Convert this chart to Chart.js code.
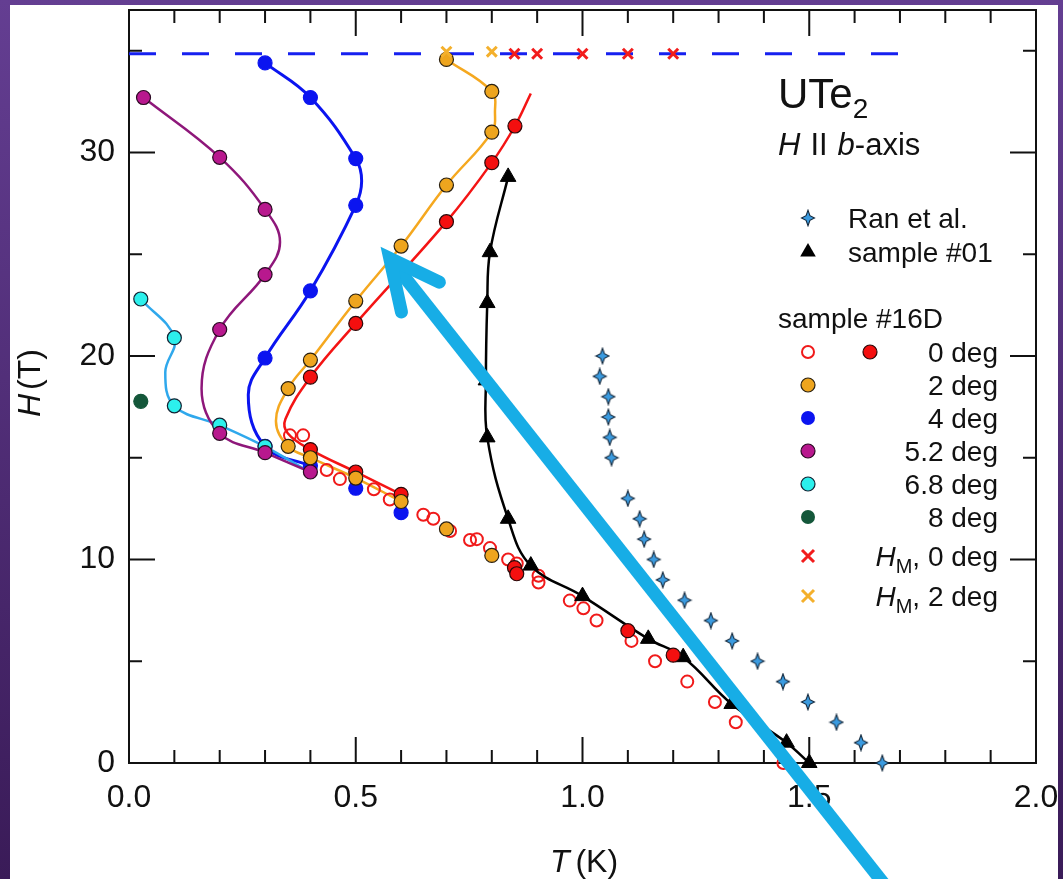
<!DOCTYPE html>
<html>
<head>
<meta charset="utf-8">
<script src="https://cdn.jsdelivr.net/npm/chart.js@4.4.0/dist/chart.umd.min.js"></script>
<style>
  html, body { margin: 0; padding: 0; background: #4a2a70; }
  canvas { display: block; }
</style>
</head>
<body>
<canvas id="myChart" width="1063" height="879"></canvas>
<script>
// axis ticks
const xTickLabels = [0, 0.5, 1.0, 1.5, 2.0];
const yTickLabels = [0, 10, 20, 30];
const xMinorTicks = [0.1, 0.2, 0.3, 0.4, 0.6, 0.7, 0.8, 0.9, 1.1, 1.2, 1.3, 1.4, 1.6, 1.7, 1.8, 1.9];
const yMinorTicks = [5, 15, 25, 35];

// Ran et al.
const tRan = [1.044, 1.038, 1.057, 1.057, 1.060, 1.064, 1.100, 1.126, 1.136, 1.157, 1.177, 1.225, 1.283, 1.330, 1.386, 1.442, 1.497, 1.560, 1.614, 1.661];
const hRan = [20, 19, 18, 17, 16, 15, 13, 12, 11, 10, 9, 8, 7, 6, 5, 4, 3, 2, 1, 0];

// sample #01
const tS01 = [0.836, 0.796, 0.790, 0.787, 0.790, 0.836, 0.886, 1.000, 1.145, 1.222, 1.329, 1.450, 1.500];
const hS01 = [28.8, 25.1, 22.6, 18.8, 16.0, 12.0, 9.7, 8.2, 6.1, 5.2, 2.9, 1.0, 0];

// sample #16D, 0 deg open circles
const tOpen0 = [0.355, 0.384, 0.436, 0.465, 0.540, 0.575, 0.649, 0.671, 0.708, 0.752, 0.767, 0.796, 0.836, 0.855, 0.903, 0.903, 0.972, 1.002, 1.031, 1.108, 1.160, 1.231, 1.292, 1.338, 1.443];
const hOpen0 = [16.1, 16.1, 14.4, 13.95, 13.45, 12.95, 12.2, 12.0, 11.4, 10.96, 11.0, 10.56, 10.0, 9.8, 9.2, 8.87, 7.98, 7.6, 7.0, 6.0, 5.0, 4.0, 3.0, 2.0, 0];

// 0 deg filled
const tRed = [0.851, 0.80, 0.70, 0.50, 0.40, 0.40, 0.50, 0.60, 0.850, 0.855, 1.10, 1.20];
const hRed = [31.3, 29.5, 26.6, 21.6, 18.96, 15.4, 14.3, 13.2, 9.6, 9.3, 6.5, 5.3];
const tRedLine = [0.886, 0.851, 0.80, 0.70, 0.50, 0.40, 0.345, 0.35, 0.40, 0.50, 0.60];
const hRedLine = [32.9, 31.3, 29.5, 26.6, 21.6, 18.96, 16.9, 16.2, 15.4, 14.3, 13.2];

// 2 deg
const tOr = [0.70, 0.80, 0.80, 0.70, 0.60, 0.50, 0.40, 0.351, 0.351, 0.40, 0.50, 0.60, 0.70, 0.80];
const hOr = [34.57, 33.0, 31.0, 28.4, 25.4, 22.7, 19.8, 18.4, 15.56, 15.0, 14.0, 12.85, 11.5, 10.2];
const tOrLine = [0.70, 0.80, 0.807, 0.80, 0.70, 0.60, 0.50, 0.40, 0.351, 0.324, 0.351, 0.40, 0.50, 0.60];
const hOrLine = [34.57, 33.0, 32.0, 31.0, 28.4, 25.4, 22.7, 19.8, 18.4, 16.8, 15.56, 15.0, 14.0, 12.85];

// 4 deg
const tBlue = [0.30, 0.40, 0.50, 0.50, 0.40, 0.30, 0.30, 0.40, 0.50, 0.60];
const hBlue = [34.4, 32.7, 29.7, 27.4, 23.2, 19.9, 15.56, 14.6, 13.5, 12.3];
const tBlueLine = [0.30, 0.40, 0.50, 0.513, 0.50, 0.40, 0.30, 0.263, 0.30, 0.40];
const hBlueLine = [34.4, 32.7, 29.7, 28.6, 27.4, 23.2, 19.9, 18.1, 15.56, 14.6];

// 5.2 deg
const tMag = [0.032, 0.20, 0.30, 0.30, 0.20, 0.20, 0.30, 0.40];
const hMag = [32.7, 29.76, 27.2, 24.0, 21.3, 16.2, 15.25, 14.3];
const tMagLine = [0.032, 0.20, 0.30, 0.333, 0.30, 0.20, 0.16, 0.20, 0.30, 0.40];
const hMagLine = [32.7, 29.76, 27.2, 25.6, 24.0, 21.3, 18.4, 16.2, 15.25, 14.3];

// 6.8 deg
const tCyan = [0.026, 0.10, 0.10, 0.20, 0.30];
const hCyan = [22.8, 20.9, 17.55, 16.6, 15.55];
const tCyanLine = [0.026, 0.10, 0.08, 0.10, 0.20, 0.30, 0.39];
const hCyanLine = [22.8, 20.9, 19.2, 17.55, 16.6, 15.55, 14.4];

// 8 deg
const tGreen = [0.026];
const hGreen = [17.77];

// H_M
const tHM0 = [0.85, 0.90, 1.0, 1.1, 1.2];
const hHM0 = [34.85, 34.85, 34.85, 34.85, 34.85];
const tHM2 = [0.70, 0.80];
const hHM2 = [34.95, 34.95];

// dashed limit line
const tDash = [0, 1.71];
const hDash = [34.85, 34.85];

// arrow (annotation) tail -> tip, data coords
const arrowT = [1.674, 0.575];
const arrowH = [-6.2, 24.8];

const FONT = '"Liberation Sans", Arial, Helvetica, sans-serif';
const mk = (t, h) => t.map((v, i) => ({ x: v, y: h[i] }));

function makeStar() {
    const s = document.createElement('canvas');
    s.width = 16; s.height = 18;
    const c = s.getContext('2d');
    const cx = 8, cy = 9, rx = 6.5, ry = 7.8, k = 0.3;
    c.beginPath();
    c.moveTo(cx, cy - ry);
    c.lineTo(cx + rx * k, cy - ry * k);
    c.lineTo(cx + rx, cy);
    c.lineTo(cx + rx * k, cy + ry * k);
    c.lineTo(cx, cy + ry);
    c.lineTo(cx - rx * k, cy + ry * k);
    c.lineTo(cx - rx, cy);
    c.lineTo(cx - rx * k, cy - ry * k);
    c.closePath();
    c.fillStyle = '#3b9be0';
    c.fill();
    c.strokeStyle = '#13283c';
    c.lineWidth = 1.1;
    c.stroke();
    return s;
}
const starImg = makeStar();

function dot(label, data, fill, border, r) {
    return {
        label: label, data: data, showLine: false,
        pointStyle: 'circle', pointRadius: r || 7,
        pointBackgroundColor: fill, pointBorderColor: border, pointBorderWidth: 1.2
    };
}
function guide(label, data, color, w) {
    return {
        label: label, data: data, showLine: true, pointRadius: 0,
        borderColor: color, borderWidth: w || 2.5, tension: 0.4, fill: false
    };
}

const data = {
    datasets: [
        { label: 'HM 2 deg', data: mk(tHM2, hHM2), showLine: false, pointStyle: 'crossRot',
          pointRadius: 7, pointBorderColor: '#f4b02c', pointBorderWidth: 3 },
        { label: 'HM 0 deg', data: mk(tHM0, hHM0), showLine: false, pointStyle: 'crossRot',
          pointRadius: 7, pointBorderColor: '#f21c1c', pointBorderWidth: 3 },
        dot('2 deg', mk(tOr, hOr), '#eea51e', '#2a2010'),
        dot('5.2 deg', mk(tMag, hMag), '#b8188e', '#2a0a22'),
        dot('6.8 deg', mk(tCyan, hCyan), '#2cf0ec', '#123'),
        dot('0 deg', mk(tRed, hRed), '#f40f0f', '#2a0808'),
        dot('4 deg', mk(tBlue, hBlue), '#0b14f0', '#0b14f0'),
        dot('8 deg', mk(tGreen, hGreen), '#14573a', '#14573a'),
        { label: 'sample #01', data: mk(tS01, hS01), showLine: true, tension: 0.4,
          borderColor: '#000', borderWidth: 2.5, pointStyle: 'triangle', pointRadius: 9,
          pointBackgroundColor: '#000', pointBorderColor: '#000', pointBorderWidth: 1 },
        { label: 'Ran et al.', data: mk(tRan, hRan), showLine: false, pointStyle: starImg, pointRadius: 8 },
        { label: '0 deg open', data: mk(tOpen0, hOpen0), showLine: false, pointStyle: 'circle', pointRadius: 6,
          pointBackgroundColor: 'rgba(0,0,0,0)', pointBorderColor: '#f01a1a', pointBorderWidth: 2 },
        guide('2 deg line', mk(tOrLine, hOrLine), '#f5a81f'),
        guide('0 deg line', mk(tRedLine, hRedLine), '#f41414'),
        guide('5.2 deg line', mk(tMagLine, hMagLine), '#8e177a'),
        guide('6.8 deg line', mk(tCyanLine, hCyanLine), '#2fa8ec'),
        guide('4 deg line', mk(tBlueLine, hBlueLine), '#0b14f0', 3),
        { label: 'limit', data: mk(tDash, hDash), showLine: true, pointRadius: 0,
          borderColor: '#1620f0', borderWidth: 3, borderDash: [27, 26] }
    ]
};
data.datasets.forEach(d => { d.clip = false; });

function fontOf(p) {
    return (p.it ? 'italic ' : '') + p.size + 'px ' + FONT;
}
function runs(ctx, parts, x, y, align) {
    let w = 0;
    parts.forEach(p => { ctx.font = fontOf(p); p.w = ctx.measureText(p.t).width; w += p.w + (p.gap || 0); });
    let cx = align === 'right' ? x - w : (align === 'center' ? x - w / 2 : x);
    parts.forEach(p => {
        ctx.font = fontOf(p);
        ctx.fillText(p.t, cx, y + (p.dy || 0));
        cx += p.w + (p.gap || 0);
    });
}
function circ(ctx, x, y, r, fill, stroke, lw) {
    ctx.beginPath();
    ctx.arc(x, y, r, 0, Math.PI * 2);
    if (fill) { ctx.fillStyle = fill; ctx.fill(); }
    if (stroke) { ctx.strokeStyle = stroke; ctx.lineWidth = lw; ctx.stroke(); }
}
function cross(ctx, x, y, r, color) {
    ctx.strokeStyle = color; ctx.lineWidth = 3;
    ctx.beginPath();
    ctx.moveTo(x - r, y - r); ctx.lineTo(x + r, y + r);
    ctx.moveTo(x + r, y - r); ctx.lineTo(x - r, y + r);
    ctx.stroke();
}

const decor = {
    id: 'decor',
    beforeDraw(chart) {
        const c = chart.ctx;
        c.save();
        const g = c.createLinearGradient(0, 0, 0, chart.height);
        g.addColorStop(0, '#643e92');
        g.addColorStop(1, '#3a1b58');
        c.fillStyle = g;
        c.fillRect(0, 0, chart.width, chart.height);
        c.fillStyle = '#fff';
        c.fillRect(10, 5, 1048, chart.height - 5);
        c.restore();
    },
    beforeDatasetsDraw(chart) {
        const c = chart.ctx;
        const a = chart.chartArea;
        const xs = chart.scales.x, ys = chart.scales.y;
        c.save();
        c.strokeStyle = '#111';
        c.lineWidth = 2;
        c.strokeRect(a.left, a.top, a.right - a.left, a.bottom - a.top);
        const tick = (v, len, isX) => {
            c.beginPath();
            if (isX) {
                const p = xs.getPixelForValue(v);
                c.moveTo(p, a.bottom); c.lineTo(p, a.bottom - len);
                c.moveTo(p, a.top); c.lineTo(p, a.top + len);
            } else {
                const p = ys.getPixelForValue(v);
                c.moveTo(a.left, p); c.lineTo(a.left + len, p);
                c.moveTo(a.right, p); c.lineTo(a.right - len, p);
            }
            c.stroke();
        };
        xTickLabels.forEach(v => tick(v, 26, true));
        xMinorTicks.forEach(v => tick(v, 13, true));
        yTickLabels.forEach(v => tick(v, 26, false));
        yMinorTicks.forEach(v => tick(v, 13, false));
        c.restore();
    },
    afterDraw(chart) {
        const c = chart.ctx;
        const xs = chart.scales.x, ys = chart.scales.y;
        c.save();
        c.fillStyle = '#111';
        c.textBaseline = 'alphabetic';

        // sample label
        runs(c, [{ t: 'UTe', size: 42 }, { t: '2', size: 28, dy: 10 }], 778, 108, 'left');
        runs(c, [{ t: 'H', size: 31, it: true, gap: 10 }, { t: 'II', size: 31, gap: 10 },
                 { t: 'b', size: 31, it: true }, { t: '-axis', size: 31 }], 778, 155, 'left');

        // legend
        const lx = 808, tx = 848, rx = 998, fs = 28;
        c.drawImage(starImg, lx - starImg.width / 2, 218 - starImg.height / 2);
        runs(c, [{ t: 'Ran et al.', size: fs }], tx, 228, 'left');
        c.fillStyle = '#000';
        c.beginPath();
        c.moveTo(lx, 252 - 9); c.lineTo(lx + 7.8, 252 + 4.5); c.lineTo(lx - 7.8, 252 + 4.5);
        c.closePath(); c.fill();
        c.fillStyle = '#111';
        runs(c, [{ t: 'sample #01', size: fs }], tx, 262, 'left');
        runs(c, [{ t: 'sample #16D', size: fs }], 778, 328, 'left');

        circ(c, lx, 352, 6, null, '#f01a1a', 2);
        circ(c, 870, 352, 7, '#f40f0f', '#2a0808', 1.2);
        circ(c, lx, 385, 7, '#eea51e', '#2a2010', 1.2);
        circ(c, lx, 418, 7, '#0b14f0', null, 0);
        circ(c, lx, 451, 7, '#b8188e', '#2a0a22', 1.2);
        circ(c, lx, 484, 7, '#2cf0ec', '#123', 1.2);
        circ(c, lx, 517, 7, '#14573a', null, 0);
        cross(c, lx, 556, 6, '#f21c1c');
        cross(c, lx, 596, 6, '#f4b02c');
        c.fillStyle = '#111';
        const rows = [['0 deg', 352], ['2 deg', 385], ['4 deg', 418], ['5.2 deg', 451], ['6.8 deg', 484], ['8 deg', 517]];
        rows.forEach(r => runs(c, [{ t: r[0], size: fs }], rx, r[1] + 10, 'right'));
        runs(c, [{ t: 'H', size: fs, it: true }, { t: 'M', size: 20, dy: 7 }, { t: ', 0 deg', size: fs }], rx, 566, 'right');
        runs(c, [{ t: 'H', size: fs, it: true }, { t: 'M', size: 20, dy: 7 }, { t: ', 2 deg', size: fs }], rx, 606, 'right');

        // axis titles
        runs(c, [{ t: 'T', size: 32, it: true, gap: 6 }, { t: '(K)', size: 32 }], 584, 872, 'center');
        c.save();
        c.translate(40, 383);
        c.rotate(-Math.PI / 2);
        runs(c, [{ t: 'H', size: 32, it: true, gap: 4 }, { t: '(T)', size: 32 }], 0, 0, 'center');
        c.restore();

        // arrow annotation
        const x0 = xs.getPixelForValue(arrowT[0]), y0 = ys.getPixelForValue(arrowH[0]);
        const x1 = xs.getPixelForValue(arrowT[1]), y1 = ys.getPixelForValue(arrowH[1]);
        const ang = Math.atan2(y0 - y1, x0 - x1);
        c.strokeStyle = '#17ade6';
        c.lineWidth = 13;
        c.lineCap = 'butt';
        c.beginPath();
        c.moveTo(x0, y0);
        c.lineTo(x1 + Math.cos(ang) * 4, y1 + Math.sin(ang) * 4);
        c.stroke();
        const L = 55, da = 26 * Math.PI / 180;
        c.lineCap = 'round';
        c.lineJoin = 'miter';
        c.miterLimit = 10;
        c.beginPath();
        c.moveTo(x1 + Math.cos(ang - da) * L, y1 + Math.sin(ang - da) * L);
        c.lineTo(x1, y1);
        c.lineTo(x1 + Math.cos(ang + da) * L, y1 + Math.sin(ang + da) * L);
        c.stroke();
        c.restore();
    }
};

const config = {
    type: 'scatter',
    data: data,
    options: {
        responsive: false,
        animation: false,
        events: [],
        layout: { padding: { left: 0, right: 27, top: 7, bottom: 0 } },
        scales: {
            x: {
                type: 'linear', min: 0, max: 2,
                grid: { display: false, drawTicks: false },
                border: { display: false },
                ticks: {
                    color: '#111', padding: 16, autoSkip: false, maxRotation: 0,
                    font: { family: FONT, size: 32 },
                    callback: v => Number(v).toFixed(1)
                },
                afterBuildTicks: s => { s.ticks = xTickLabels.map(v => ({ value: v })); },
                afterFit: s => { s.height = 116; s.paddingLeft = 0; s.paddingRight = 0; }
            },
            y: {
                type: 'linear', min: 0, max: 37,
                grid: { display: false, drawTicks: false },
                border: { display: false },
                ticks: {
                    color: '#111', padding: 14, autoSkip: false,
                    font: { family: FONT, size: 32 }
                },
                afterBuildTicks: s => { s.ticks = yTickLabels.map(v => ({ value: v })); },
                afterFit: s => { s.width = 129; s.paddingTop = 0; s.paddingBottom = 0; }
            }
        },
        plugins: {
            legend: { display: false },
            title: { display: false },
            tooltip: { enabled: false }
        }
    },
    plugins: [decor]
};

var myChart = new Chart(document.getElementById('myChart'), config);
</script>
</body>
</html>
